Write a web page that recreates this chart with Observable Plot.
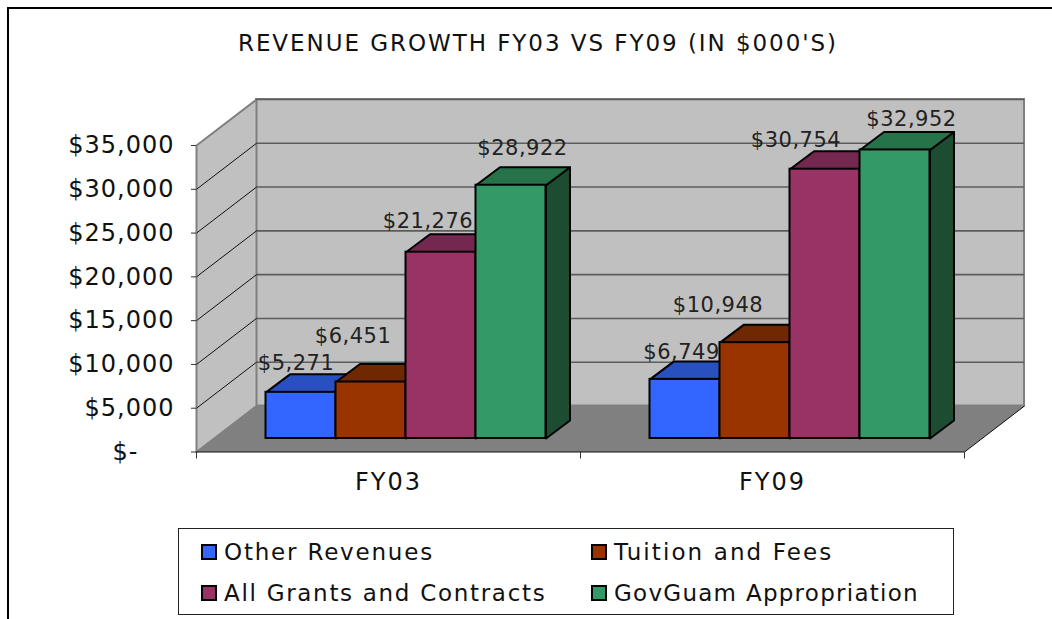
<!DOCTYPE html>
<html>
<head>
<meta charset="utf-8">
<script src="https://cdn.jsdelivr.net/npm/d3@7"></script>
<script src="https://cdn.jsdelivr.net/npm/@observablehq/plot@0.6"></script>
<style>
  html, body { margin: 0; padding: 0; background: #fff; overflow: hidden; }
  #page { position: relative; width: 1052px; height: 619px; overflow: hidden; font-family: "DejaVu Sans", sans-serif; color: #111; }
  #frame { position: absolute; left: 7px; top: 7px; width: 1060px; height: 640px; border: 2px solid #000; box-sizing: border-box; }
  #title { position: absolute; left: 0; top: 28px; width: 1076px; text-align: center; font-size: 23px; line-height: 30px; letter-spacing: 1.95px; white-space: nowrap; }
  #chart { position: absolute; left: 0; top: 0; }
  #legend { position: absolute; left: 178px; top: 528px; width: 776px; height: 87px; box-sizing: border-box; border: 1px solid #222; background: #fff; }
  .item { position: absolute; font-size: 23px; line-height: 30px; white-space: nowrap; }
  .item i { position: absolute; left: -23px; top: 7px; width: 12px; height: 12px; border: 2px solid #000; }
  g[aria-label="money axis"] text { letter-spacing: 1px; }
</style>
</head>
<body>
<div id="page">
  <div id="frame"></div>
  <div id="chart"></div>
  <div id="title"></div>
  <div id="legend"></div>
</div>
<script>
// ---- data ----
const chartTitle = "REVENUE GROWTH FY03 VS FY09 (IN $000'S)";
const years = ["FY03", "FY09"];
const seriesNames = ["Other Revenues", "Tuition and Fees", "All Grants and Contracts", "GovGuam Appropriation"];
const otherRevenues = [5271, 6749];
const tuitionAndFees = [6451, 10948];
const grantsAndContracts = [21276, 30754];
const govGuamAppropriation = [28922, 32952];
const yTicks = [5000, 10000, 15000, 20000, 25000, 30000, 35000];

// ---- styles and layout ----
const frontColors = ["#3366ff", "#993300", "#993366", "#339966"];
const topColors = ["#2850c0", "#702800", "#75284f", "#26734a"];
const sideColors = ["#1c3a90", "#4d1c00", "#4d1c33", "#1c4d33"];
const labelNudges = [
  [[-5, -22], [-3.5, -20]],
  [[-18, -39], [-37, -30]],
  [[-13, -24], [-29, -22]],
  [[11.5, -30], [16.5, -24]]
];
const legendSpacing = [1.8, 2.1, 1.7, 1.27];
const unitsPerPx = 35000 / 306.5;     // value units per pixel
const catPerPx = 1 / 384;             // category units per pixel
const wallDx = 60 * catPerPx, wallDy = 46 * unitsPerPx;
const barDx = 24 * catPerPx, barDy = 18 * unitsPerPx;
const barLift = 13.5 * unitsPerPx;
const barStart = 69.5 * catPerPx, barWidth = 70 * catPerPx;
const maxY = 35000;

// ---- derived table ----
const seriesValues = [otherRevenues, tuitionAndFees, grantsAndContracts, govGuamAppropriation];
const bars = seriesValues.flatMap((values, s) => values.map((value, c) => {
  const x1 = c + barStart + s * barWidth, x2 = x1 + barWidth;
  return { s, c, value, x1, x2, y1: barLift, y2: barLift + value, id: `${s}-${c}`,
           front: frontColors[s], topFill: topColors[s], sideFill: sideColors[s], nudge: labelNudges[s][c] };
}));
const topFaces = bars.flatMap(b => [[b.x1, b.y2], [b.x2, b.y2], [b.x2 + barDx, b.y2 + barDy], [b.x1 + barDx, b.y2 + barDy]]
  .map(([x, y]) => ({ x, y, id: b.id, fill: b.topFill })));
const sideFaces = bars.flatMap(b => [[b.x2, b.y1], [b.x2 + barDx, b.y1 + barDy], [b.x2 + barDx, b.y2 + barDy], [b.x2, b.y2]]
  .map(([x, y]) => ({ x, y, id: b.id, fill: b.sideFill })));
const sideWall = [[0, 0], [wallDx, wallDy], [wallDx, maxY + wallDy], [0, maxY]].map(([x, y]) => ({ x, y }));
const floorFace = [[0, 0], [2, 0], [2 + wallDx, wallDy], [wallDx, wallDy]].map(([x, y]) => ({ x, y }));
const money = d3.format(",");
const valueLabels = bars.map(b => "$" + money(b.value));

const chartMarks = [
  // walls and floor
  Plot.rect([0], { x1: wallDx, x2: 2 + wallDx, y1: wallDy, y2: maxY + wallDy, fill: "#c0c0c0", stroke: "#808080", strokeWidth: 2 }),
  Plot.line(sideWall, { x: "x", y: "y", curve: "linear-closed", fill: "#c0c0c0", stroke: "#808080", strokeWidth: 2 }),
  Plot.ruleY(yTicks, { y: d => d + wallDy, x1: wallDx, x2: 2 + wallDx, stroke: "#5c5c5c", strokeWidth: 1.6 }),
  Plot.link(yTicks.slice(0, -1), { x1: 0, x2: wallDx, y1: d => d, y2: d => d + wallDy, stroke: "#111", strokeWidth: 1 }),
  Plot.line(floorFace, { x: "x", y: "y", curve: "linear-closed", fill: "#808080", stroke: "none" }),
  Plot.ruleY([0], { x1: 0, x2: 2, stroke: "#111", strokeWidth: 1.2 }),
  Plot.link([0], { x1: 2, x2: 2 + wallDx, y1: 0, y2: wallDy, stroke: "#111", strokeWidth: 1 }),
  // bars: sides, tops, then fronts
  Plot.line(sideFaces, { x: "x", y: "y", z: "id", curve: "linear-closed", fill: "fill", stroke: "#000", strokeWidth: 2, strokeLinejoin: "round" }),
  Plot.line(topFaces, { x: "x", y: "y", z: "id", curve: "linear-closed", fill: "fill", stroke: "#000", strokeWidth: 2, strokeLinejoin: "round" }),
  Plot.rect(bars, { x1: "x1", x2: "x2", y1: "y1", y2: "y2", fill: "front", stroke: "#000", strokeWidth: 2 }),
  // axes
  Plot.axisY({ ticks: yTicks, tickSize: 5, tickPadding: 17, tickFormat: d => "$" + money(d), fontSize: 24, stroke: "#333", label: null, anchor: "left" }),
  Plot.axisY({ ticks: [0], tickSize: 5, tickPadding: 53, tickFormat: () => "$-", fontSize: 24, stroke: "#333", label: null, anchor: "left" }),
  Plot.axisX({ ticks: [0, 1, 2], tickSize: 7, tickFormat: () => "", stroke: "#333", label: null, anchor: "bottom" }),
  Plot.text(years, { x: (d, i) => i + 0.5, y: 0, text: d => d, dy: 30, fontSize: 24, fill: "#111" }),
  // value labels, each at its hand-placed offset from its bar
  ...bars.map(b => Plot.text([b], {
    x: d => (d.x1 + d.x2) / 2, y: "y2", text: d => "$" + money(d.value),
    dx: b.nudge[0], dy: b.nudge[1] - 7, fontSize: 21, fill: "#222"
  }))
];

const svg = Plot.plot({
  width: 1052, height: 619,
  marginLeft: 196, marginRight: 88, marginTop: 145, marginBottom: 167.5,
  style: { background: "transparent", fontFamily: '"DejaVu Sans", sans-serif', overflow: "visible" },
  x: { type: "linear", domain: [0, 2], axis: null },
  y: { type: "linear", domain: [0, maxY], axis: null },
  marks: chartMarks
});
svg.querySelectorAll('g[aria-label="y-axis tick label"]').forEach(g => g.setAttribute("aria-label", "money axis"));
svg.querySelectorAll("text").forEach(t => {
  const s = t.textContent;
  if (years.includes(s)) t.style.letterSpacing = "2px";
  else if (valueLabels.includes(s)) t.style.letterSpacing = "0.5px";
});
document.getElementById("chart").appendChild(svg);
document.getElementById("title").textContent = chartTitle;

const legendPos = [[45, 7.5], [435, 7.5], [45, 49], [435, 49]];
const legendBox = document.getElementById("legend");
seriesNames.forEach((name, i) => {
  const el = document.createElement("div");
  el.className = "item";
  el.style.left = legendPos[i][0] + "px";
  el.style.top = legendPos[i][1] + "px";
  el.style.letterSpacing = legendSpacing[i] + "px";
  const sw = document.createElement("i");
  sw.style.background = frontColors[i];
  el.appendChild(sw);
  el.appendChild(document.createTextNode(name));
  legendBox.appendChild(el);
});
</script>
</body>
</html>
